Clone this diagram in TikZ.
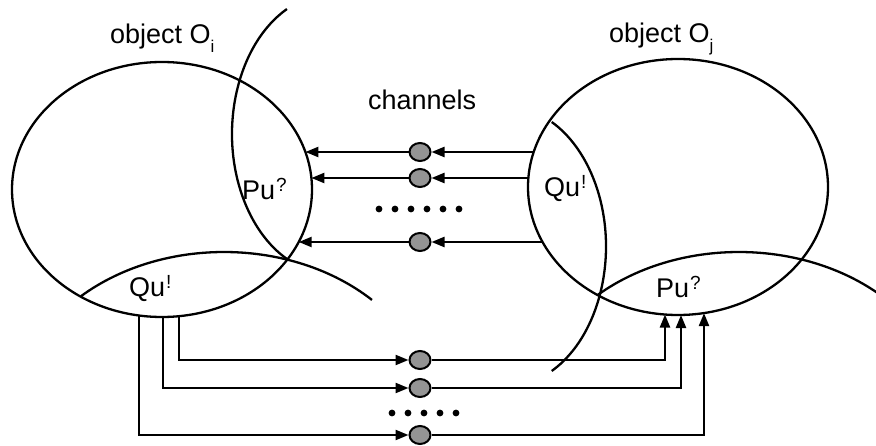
\documentclass[tikz,border=0pt]{standalone}
\usepackage{fontspec}
\setmainfont{Liberation Sans}
\usetikzlibrary{shapes.geometric,arrows.meta}
\newcommand\supx[1]{\kern1pt\raisebox{8pt}{\fontsize{19}{19}\selectfont #1}}
\newcommand\subx[1]{\raisebox{-9pt}{\fontsize{17}{17}\selectfont #1}}
\definecolor{chgray}{RGB}{148,148,148}
\begin{document}
\begin{tikzpicture}[x=1pt,y=1pt,line width=2.3pt,
  obj/.style={draw,ellipse,inner sep=0pt,minimum width=300pt},
  chan/.style={draw,ellipse,inner sep=0pt,minimum width=21pt,minimum height=18pt,fill=chgray,line width=2pt},
  arr/.style={-{Triangle[length=13pt,width=10pt]}},
  lbl/.style={inner sep=0pt,anchor=base west,font=\fontsize{27}{30}\selectfont},
  dot/.style={fill=black,draw=none}]
\useasboundingbox (0,0) rectangle (876,445);
\clip (0,0) rectangle (876,445);
% objects
\node[obj,minimum height=255pt] (Oi) at (162,255.5) {};
\node[obj,minimum height=256pt] (Oj) at (678,258) {};
% interface arcs
\draw (332,311) ++(116.8:100 and 140) arc[start angle=116.8,end angle=243.2,x radius=100,y radius=140];
\draw (506,198.5) ++(-62.8:100 and 140) arc[start angle=-62.8,end angle=62.8,x radius=100,y radius=140];
\draw (224,28) ++(132.9:210 and 165) arc[start angle=132.9,end angle=45.2,x radius=210,y radius=165];
\draw (739,28) ++(132.2:210 and 165) arc[start angle=132.2,end angle=44,x radius=210,y radius=165];
% labels
\node[lbl] (li) at (109,401) {object O\subx{i}};
\node[lbl] (lj) at (608,402) {object O\subx{j}};
\node[lbl] (lc) at (367,335) {channels};
\node[lbl] (pi) at (241,245) {Pu\supx{?}};
\node[lbl] (qi) at (128,148) {Qu\supx{!}};
\node[lbl] (qj) at (543,248) {Qu\supx{!}};
\node[lbl] (pj) at (655,147) {Pu\supx{?}};
% channels
\node[chan] (c1) at (420,293) {};
\node[chan] (c2) at (420,267) {};
\node[chan] (c3) at (420,203) {};
\node[chan] (c4) at (420,85) {};
\node[chan] (c5) at (420,57) {};
\node[chan] (c6) at (420,10) {};
% border points
\coordinate (qj1) at (533.7,293);
\coordinate (qj2) at (528.4,267);
\coordinate (qj3) at (542.6,203);
\coordinate (pi1) at (305.4,293);
\coordinate (pi2) at (311.4,267);
\coordinate (pi3) at (298.7,203);
\coordinate (qi1) at (179,128.8);
\coordinate (qi2) at (163,128.0);
\coordinate (qi3) at (139,129.5);
\coordinate (pj1) at (665,130.5);
\coordinate (pj2) at (681,130.0);
\coordinate (pj3) at (704,131.9);
% top connectors
\draw[arr] (qj1) -- (c1);
\draw[arr] (c1) -- (pi1);
\draw[arr] (qj2) -- (c2);
\draw[arr] (c2) -- (pi2);
\draw[arr] (qj3) -- (c3);
\draw[arr] (c3) -- (pi3);
% bottom connectors
\draw[arr] (qi1) |- (c4);
\draw[arr] (c4) -| (pj1);
\draw[arr] (qi2) |- (c5);
\draw[arr] (c5) -| (pj2);
\draw[arr] (qi3) |- (c6);
\draw[arr] (c6) -| (pj3);
% ellipsis dots
\foreach \k in {0,...,5} \fill[dot] (379+16*\k,236) circle (3.4);
\foreach \k in {0,...,4} \fill[dot] (392+16*\k,32) circle (3.4);
\end{tikzpicture}
\end{document}
